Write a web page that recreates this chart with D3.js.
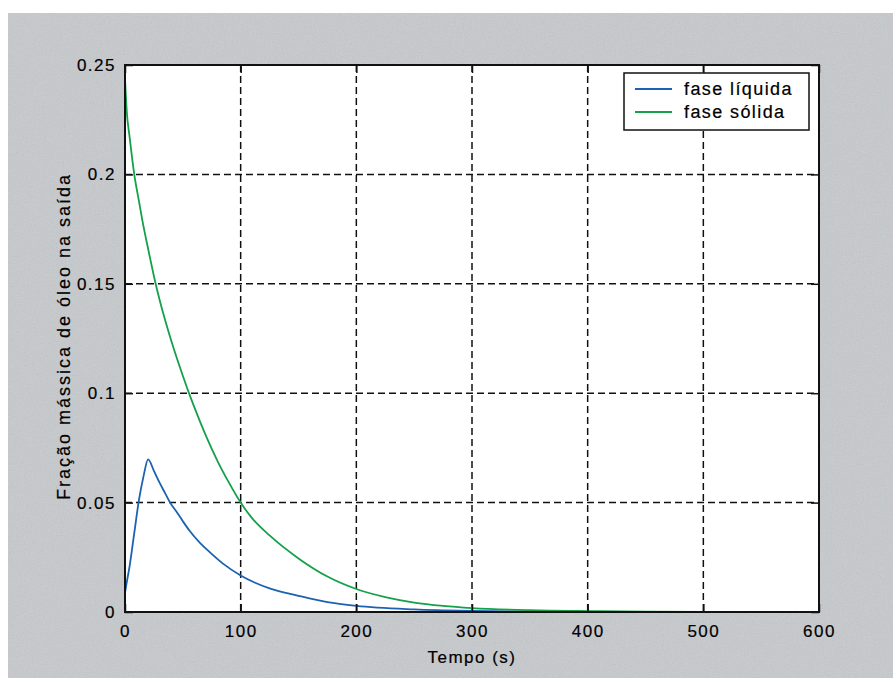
<!DOCTYPE html>
<html>
<head>
<meta charset="utf-8">
<script src="https://cdn.jsdelivr.net/npm/d3@7/dist/d3.min.js"></script>
<style>
  body { margin: 0; background: #fff; }
  text { font-family: "Liberation Sans", Arial, sans-serif; fill: #000; stroke: #000; stroke-width: 0.2px; }
  .grid line { stroke: #111; stroke-width: 1.5px; stroke-dasharray: 7,4; }
</style>
</head>
<body>
<script>
// fase liquida: tempo (s) e fracao massica
var tempoLiquida = [0, 1, 4, 8, 12, 16, 20, 25, 30, 35, 39, 45, 50, 56, 65, 73, 85, 100, 112, 125, 150, 175, 200, 250, 300, 350, 400, 500, 600];
var fracLiquida  = [0.0087, 0.012, 0.021, 0.036, 0.051, 0.062, 0.0698, 0.0645, 0.059, 0.054, 0.050, 0.0455, 0.0415, 0.037, 0.0315, 0.0275, 0.022, 0.0167, 0.0135, 0.0108, 0.0074, 0.0045, 0.0028, 0.0012, 0.0005, 0.0002, 0.0001, 0.00005, 0.0];

// fase solida
var tempoSolida = [0, 1.5, 4, 8, 12, 15, 20, 26.5, 30, 40, 50, 55, 60, 70, 80, 90, 100, 110, 125, 150, 175, 200, 225, 250, 275, 300, 350, 400, 450, 500, 600];
var fracSolida  = [0.244, 0.229, 0.217, 0.200, 0.188, 0.179, 0.166, 0.150, 0.1425, 0.124, 0.108, 0.1005, 0.0935, 0.0805, 0.069, 0.059, 0.050, 0.0428, 0.035, 0.0245, 0.0162, 0.0105, 0.0068, 0.0043, 0.0028, 0.0018, 0.0008, 0.0004, 0.0002, 0.0001, 0.0];

var xTicks = [0, 100, 200, 300, 400, 500, 600];
var yTicks = [0, 0.05, 0.1, 0.15, 0.2, 0.25];
var yTickLabels = ["0", "0.05", "0.1", "0.15", "0.2", "0.25"];

var series = [
  { nome: "fase líquida", t: tempoLiquida, v: fracLiquida, cor: "#1c62b3" },
  { nome: "fase sólida",  t: tempoSolida,  v: fracSolida,  cor: "#14a14a" }
];

var W = 893, H = 678;
var pLeft = 125, pTop = 65, pRight = 819, pBottom = 612;

var svg = d3.select("body").append("svg")
  .attr("width", W)
  .attr("height", H);

// grainy gray figure background
var defs = svg.append("defs");
var f = defs.append("filter").attr("id", "grain").attr("x", 0).attr("y", 0).attr("width", "100%").attr("height", "100%");
f.append("feTurbulence").attr("type", "fractalNoise").attr("baseFrequency", 0.9).attr("numOctaves", 2).attr("seed", 3);
f.append("feColorMatrix").attr("type", "saturate").attr("values", 0);

svg.append("rect").attr("x", 8).attr("y", 13).attr("width", W - 8).attr("height", H - 13).attr("fill", "#c7cacd");
svg.append("rect").attr("x", 8).attr("y", 13).attr("width", W - 8).attr("height", H - 13)
  .attr("filter", "url(#grain)").attr("opacity", 0.22);

var x = d3.scaleLinear().domain([0, 600]).range([pLeft, pRight]);
var y = d3.scaleLinear().domain([0, 0.25]).range([pBottom, pTop]);

svg.append("rect")
  .attr("x", pLeft).attr("y", pTop)
  .attr("width", pRight - pLeft).attr("height", pBottom - pTop)
  .attr("fill", "#fff");

// dashed grid
var grid = svg.append("g").attr("class", "grid");
grid.selectAll("line.v").data(xTicks.slice(1, -1)).enter().append("line")
  .attr("x1", function(d) { return x(d); }).attr("x2", function(d) { return x(d); })
  .attr("y1", pTop).attr("y2", pBottom);
grid.selectAll("line.h").data(yTicks.slice(1, -1)).enter().append("line")
  .attr("x1", pLeft).attr("x2", pRight)
  .attr("y1", function(d) { return y(d); }).attr("y2", function(d) { return y(d); });

// curves
var line = d3.line()
  .x(function(d) { return x(d[0]); })
  .y(function(d) { return y(d[1]); })
  .curve(d3.curveMonotoneX);

series.forEach(function(s) {
  svg.append("path")
    .datum(d3.zip(s.t, s.v))
    .attr("d", line)
    .attr("fill", "none")
    .attr("stroke", s.cor)
    .attr("stroke-width", 1.8);
});

// axes, ticks inside like the original plotting tool
var axB = d3.axisBottom(x).tickValues(xTicks).tickSize(-8).tickPadding(13);
var axT = d3.axisTop(x).tickValues(xTicks).tickSize(-8).tickFormat("");
var axL = d3.axisLeft(y).tickValues(yTicks).tickSize(-8).tickPadding(9)
  .tickFormat(function(d, i) { return yTickLabels[i]; });
var axR = d3.axisRight(y).tickValues(yTicks).tickSize(-8).tickFormat("");

function styleAxis(g) {
  g.select(".domain").remove();
  g.selectAll(".tick line").attr("stroke", "#111").attr("stroke-width", 1.5);
  g.selectAll("text")
    .attr("font-family", "Liberation Sans, Arial, sans-serif")
    .attr("font-size", 17)
    .attr("letter-spacing", 1.5)
    .attr("fill", "#000");
}

svg.append("g").attr("transform", "translate(0," + pBottom + ")").call(axB).call(styleAxis);
svg.append("g").attr("transform", "translate(0," + pTop + ")").call(axT).call(styleAxis);
svg.append("g").attr("transform", "translate(" + pLeft + ",0)").call(axL).call(styleAxis);
svg.append("g").attr("transform", "translate(" + pRight + ",0)").call(axR).call(styleAxis);

svg.append("rect")
  .attr("x", pLeft).attr("y", pTop)
  .attr("width", pRight - pLeft).attr("height", pBottom - pTop)
  .attr("fill", "none").attr("stroke", "#111").attr("stroke-width", 2);

// axis titles
svg.append("text")
  .attr("x", (pLeft + pRight) / 2).attr("y", 663)
  .attr("text-anchor", "middle")
  .attr("font-size", 17).attr("letter-spacing", 1.5)
  .text("Tempo (s)");

svg.append("text")
  .attr("transform", "translate(70," + ((pTop + pBottom) / 2 - 2) + ") rotate(-90)")
  .attr("text-anchor", "middle")
  .attr("font-size", 18).attr("letter-spacing", 2)
  .text("Fração mássica de óleo na saída");

// legend
var lg = svg.append("g");
lg.append("rect")
  .attr("x", 624).attr("y", 73).attr("width", 185).attr("height", 57)
  .attr("fill", "#fff").attr("stroke", "#111").attr("stroke-width", 1.5);
series.forEach(function(s, i) {
  var ly = 89 + i * 23;
  lg.append("line")
    .attr("x1", 635).attr("x2", 672).attr("y1", ly).attr("y2", ly)
    .attr("stroke", s.cor).attr("stroke-width", 1.8);
  lg.append("text")
    .attr("x", 684).attr("y", ly + 6)
    .attr("font-size", 18).attr("letter-spacing", 1.4)
    .text(s.nome);
});
</script>
</body>
</html>
